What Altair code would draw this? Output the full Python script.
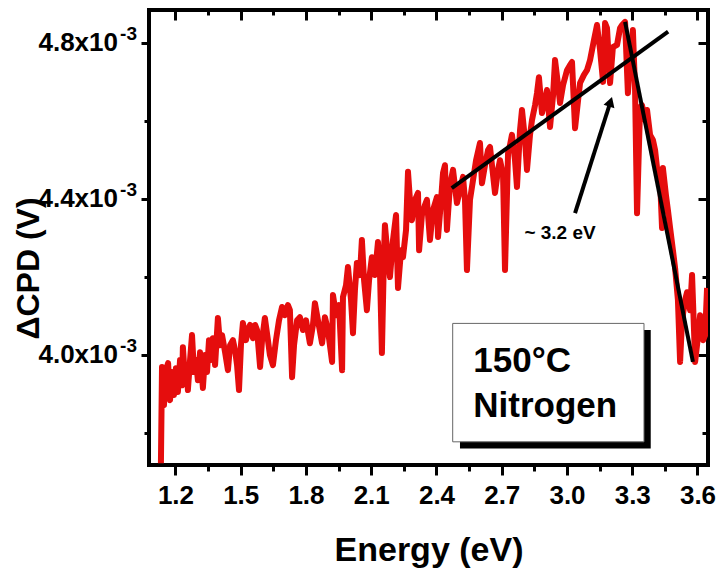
import altair as alt
import pandas as pd

FONT = "Liberation Sans"

# ---- measured spectrum (Energy in eV, dCPD in mV) ----
energy = [1.133, 1.138, 1.147, 1.156, 1.166, 1.175, 1.184, 1.193, 1.202, 1.211,
          1.221, 1.230, 1.234, 1.244, 1.253, 1.257, 1.267, 1.276, 1.285, 1.294,
          1.303, 1.313, 1.326, 1.336, 1.345, 1.354, 1.363, 1.372, 1.382, 1.395,
          1.405, 1.414, 1.428, 1.441, 1.451, 1.464, 1.474, 1.483, 1.492, 1.501,
          1.510, 1.524, 1.533, 1.543, 1.556, 1.566, 1.575, 1.589, 1.598, 1.611,
          1.625, 1.634, 1.648, 1.662, 1.676, 1.690, 1.703, 1.717, 1.726, 1.736,
          1.745, 1.759, 1.772, 1.786, 1.800, 1.818, 1.832, 1.841, 1.855, 1.874,
          1.887, 1.901, 1.920, 1.924, 1.938, 1.952, 1.966, 1.970, 1.984, 1.993,
          2.007, 2.016, 2.025, 2.034, 2.048, 2.057, 2.067, 2.080, 2.090, 2.103,
          2.117, 2.131, 2.140, 2.149, 2.159, 2.163, 2.177, 2.186, 2.200, 2.214,
          2.223, 2.237, 2.246, 2.260, 2.269, 2.278, 2.287, 2.301, 2.315, 2.320,
          2.333, 2.347, 2.356, 2.370, 2.384, 2.402, 2.407, 2.421, 2.430, 2.439,
          2.448, 2.462, 2.476, 2.494, 2.508, 2.522, 2.531, 2.540, 2.554, 2.568,
          2.582, 2.600, 2.609, 2.623, 2.637, 2.646, 2.660, 2.669, 2.683, 2.692,
          2.706, 2.715, 2.729, 2.738, 2.747, 2.761, 2.770, 2.784, 2.793, 2.807,
          2.816, 2.830, 2.839, 2.853, 2.862, 2.871, 2.885, 2.899, 2.908, 2.922,
          2.936, 2.945, 2.959, 2.968, 2.982, 3.000, 3.014, 3.023, 3.037, 3.051,
          3.060, 3.078, 3.092, 3.106, 3.124, 3.138, 3.152, 3.166, 3.175, 3.184,
          3.198, 3.211, 3.230, 3.244, 3.253, 3.267, 3.280, 3.290, 3.303, 3.313,
          3.322, 3.336, 3.345, 3.359, 3.368, 3.382, 3.395, 3.405, 3.414, 3.428,
          3.437, 3.441, 3.455, 3.464, 3.474, 3.487, 3.497, 3.510, 3.520, 3.529,
          3.543, 3.552, 3.566, 3.575, 3.584, 3.589, 3.603, 3.612, 3.626, 3.635,
          3.644]
cpd_mV = [3.722, 3.969, 3.871, 3.961, 3.979, 3.884, 3.956, 3.897, 3.966, 3.905,
          3.987, 3.922, 4.020, 3.935, 3.961, 3.910, 3.987, 4.051, 3.956, 3.987,
          3.935, 4.007, 3.915, 4.000, 3.956, 4.038, 3.987, 4.043, 3.974, 4.095,
          4.025, 4.051, 4.007, 3.961, 4.025, 4.038, 4.012, 3.974, 3.910, 4.025,
          4.082, 4.038, 4.064, 4.077, 4.043, 4.077, 4.064, 3.969, 4.038, 4.095,
          4.038, 4.000, 3.974, 4.038, 4.089, 4.123, 4.102, 4.128, 4.115, 3.943,
          4.025, 4.089, 4.097, 4.064, 4.089, 4.030, 4.077, 4.133, 4.089, 4.030,
          4.097, 4.064, 3.982, 4.154, 4.102, 4.128, 3.961, 4.149, 4.179, 4.226,
          4.141, 4.056, 4.166, 4.236, 4.205, 4.295, 4.192, 4.115, 4.192, 4.251,
          4.205, 4.290, 4.218, 4.005, 4.269, 4.333, 4.244, 4.200, 4.295, 4.359,
          4.172, 4.269, 4.251, 4.321, 4.470, 4.398, 4.346, 4.398, 4.416, 4.269,
          4.359, 4.385, 4.398, 4.295, 4.372, 4.405, 4.303, 4.398, 4.467, 4.487,
          4.321, 4.436, 4.475, 4.390, 4.423, 4.457, 4.398, 4.218, 4.398, 4.449,
          4.500, 4.544, 4.441, 4.487, 4.526, 4.534, 4.462, 4.416, 4.475, 4.500,
          4.462, 4.218, 4.518, 4.539, 4.565, 4.500, 4.431, 4.577, 4.629, 4.552,
          4.475, 4.565, 4.603, 4.641, 4.672, 4.713, 4.621, 4.654, 4.680, 4.585,
          4.667, 4.757, 4.693, 4.647, 4.693, 4.731, 4.744, 4.752, 4.582, 4.654,
          4.698, 4.719, 4.731, 4.757, 4.808, 4.847, 4.783, 4.701, 4.852, 4.839,
          4.698, 4.790, 4.796, 4.839, 4.847, 4.855, 4.672, 4.757, 4.834, 4.680,
          4.364, 4.636, 4.641, 4.603, 4.629, 4.565, 4.552, 4.526, 4.480, 4.449,
          4.326, 4.480, 4.410, 4.372, 4.326, 4.269, 4.223, 4.141, 3.982, 4.089,
          4.141, 4.161, 4.115, 4.205, 4.064, 3.982, 4.051, 4.102, 4.038, 4.051,
          4.172]

# ---- linear fits drawn on the spectrum ----
fit_id = ["rise", "rise", "fall", "fall"]
fit_energy = [2.470, 3.465, 3.267, 3.579]
fit_mV = [4.428, 4.830, 4.855, 3.982]

# ---- arrow annotation ----
arrow_energy = [3.037, 3.200]
arrow_mV = [4.364, 4.650]
arrow_label = "~ 3.2 eV"
arrow_label_energy = 2.968
arrow_label_mV = 4.313

# ---- inset label box ----
box_text = ["150°C", "Nitrogen"]
box_text_energy = [2.569, 2.569]
box_text_mV = [3.957, 3.841]
box_energy = [2.4745, 3.354]
box_mV = [4.081, 3.777]
shadow_energy = [2.508, 3.385]
shadow_mV = [4.064, 3.760]

# ---- axes ----
x_major = [1.2, 1.5, 1.8, 2.1, 2.4, 2.7, 3.0, 3.3, 3.6]
x_minor = [1.35, 1.65, 1.95, 2.25, 2.55, 2.85, 3.15, 3.45]
y_major_mV = [4.0, 4.4, 4.8]
y_minor_mV = [3.8, 4.2, 4.6]
y_tick_text = ["4.0x10", "4.4x10", "4.8x10"]
y_tick_exp = "-3"
x_domain = [1.0782, 3.6483]
y_domain_mV = [3.7175, 4.8855]

mV = 1e-3
spec = pd.DataFrame({"E": energy, "V": [v * mV for v in cpd_mV]})
fits = pd.DataFrame({"id": fit_id, "E": fit_energy, "V": [v * mV for v in fit_mV]})
arrow = pd.DataFrame({"E": arrow_energy, "V": [v * mV for v in arrow_mV]})
head = pd.DataFrame({"E": [arrow_energy[1]], "V": [arrow_mV[1] * mV]})
alabel = pd.DataFrame({"E": [arrow_label_energy], "V": [arrow_label_mV * mV], "t": [arrow_label]})
btext = pd.DataFrame({"E": box_text_energy, "V": [v * mV for v in box_text_mV], "t": box_text})
box = pd.DataFrame({"E": [box_energy[0]], "E2": [box_energy[1]],
                    "V": [box_mV[0] * mV], "V2": [box_mV[1] * mV]})
shadow = pd.DataFrame({"E": [shadow_energy[0]], "E2": [shadow_energy[1]],
                       "V": [shadow_mV[0] * mV], "V2": [shadow_mV[1] * mV]})
ylab = pd.DataFrame({"V": [v * mV for v in y_major_mV], "t": y_tick_text})

xs = alt.Scale(domain=x_domain, nice=False, zero=False)
ys = alt.Scale(domain=[v * mV for v in y_domain_mV], nice=False, zero=False)

common = dict(domain=False, grid=False, tickColor="black", tickWidth=3)

ax_bottom = alt.Axis(orient="bottom", values=x_major, tickSize=10, format=".1f",
                     labelFont=FONT, labelFontSize=26, labelFontWeight="bold",
                     labelColor="black", labelPadding=7, labelFlush=False,
                     labelOverlap=False, title="Energy (eV)", titleFont=FONT,
                     titleFontSize=34, titleFontWeight="bold", titleColor="black",
                     titleBaseline="alphabetic", titleY=95, **common)
ax_left = alt.Axis(orient="left", values=[v * mV for v in y_major_mV], tickSize=8,
                   labels=False, title="ΔCPD (V)", titleFont=FONT, titleFontSize=32,
                   titleFontWeight="bold", titleColor="black", titleAngle=270,
                   titleAlign="center", titleBaseline="middle", titleX=-121,
                   titleY=258, **common)
ax_bottom_minor = alt.Axis(orient="bottom", values=x_minor, tickSize=6,
                           labels=False, title=None, **common)
ax_left_minor = alt.Axis(orient="left", values=[v * mV for v in y_minor_mV],
                         tickSize=5, labels=False, title=None, **common)
ax_top = alt.Axis(orient="top", values=x_major, tickSize=10, offset=-10,
                  labels=False, title=None, **common)
ax_right = alt.Axis(orient="right", values=[v * mV for v in y_major_mV],
                    tickSize=10, offset=-10, labels=False, title=None, **common)
ax_top_minor = alt.Axis(orient="top", values=x_minor, tickSize=5, offset=-5,
                        labels=False, title=None, **common)
ax_right_minor = alt.Axis(orient="right", values=[v * mV for v in y_minor_mV],
                          tickSize=6, offset=-6, labels=False, title=None, **common)

line = alt.Chart(spec).mark_line(color="#e50d0d", strokeWidth=6, strokeJoin="round",
                                 clip=True).encode(
    x=alt.X("E:Q", scale=xs, axis=ax_bottom),
    y=alt.Y("V:Q", scale=ys, axis=ax_left),
)

fit = alt.Chart(fits).mark_line(color="black", strokeWidth=4).encode(
    x=alt.X("E:Q", scale=xs, axis=ax_bottom_minor),
    y=alt.Y("V:Q", scale=ys, axis=ax_left_minor),
    detail="id:N",
)

arr = alt.Chart(arrow).mark_line(color="black", strokeWidth=4).encode(
    x=alt.X("E:Q", scale=xs, axis=ax_top),
    y=alt.Y("V:Q", scale=ys, axis=ax_right),
)

arr_head = alt.Chart(head).mark_point(shape="triangle-up", filled=True, color="black",
                                      opacity=1, size=130, angle=17.7).encode(
    x=alt.X("E:Q", scale=xs, axis=None),
    y=alt.Y("V:Q", scale=ys, axis=None),
)

arr_text = alt.Chart(alabel).mark_text(font=FONT, fontSize=19, fontWeight="bold",
                                       color="black", align="center",
                                       baseline="middle").encode(
    x=alt.X("E:Q", scale=xs, axis=None),
    y=alt.Y("V:Q", scale=ys, axis=None),
    text="t:N",
)

shadow_rect = alt.Chart(shadow).mark_rect(color="black").encode(
    x=alt.X("E:Q", scale=xs, axis=ax_top_minor),
    x2="E2:Q",
    y=alt.Y("V:Q", scale=ys, axis=ax_right_minor),
    y2="V2:Q",
)

box_rect = alt.Chart(box).mark_rect(fill="white", stroke="#666666",
                                    strokeWidth=1).encode(
    x=alt.X("E:Q", scale=xs, axis=None),
    x2="E2:Q",
    y=alt.Y("V:Q", scale=ys, axis=None),
    y2="V2:Q",
)

box_label = alt.Chart(btext).mark_text(font=FONT, fontSize=35, fontWeight="bold",
                                       color="black", align="left",
                                       baseline="alphabetic").encode(
    x=alt.X("E:Q", scale=xs, axis=None),
    y=alt.Y("V:Q", scale=ys, axis=None),
    text="t:N",
)

ytick_main = alt.Chart(ylab).mark_text(font=FONT, fontSize=26, fontWeight="bold",
                                       color="black", align="right",
                                       baseline="middle").encode(
    x=alt.value(-31),
    y=alt.Y("V:Q", scale=ys, axis=None),
    text="t:N",
)
ytick_exp = alt.Chart(ylab).mark_text(font=FONT, fontSize=19, fontWeight="bold",
                                      color="black", align="right",
                                      baseline="middle", dy=-9,
                                      text=y_tick_exp).encode(
    x=alt.value(-12),
    y=alt.Y("V:Q", scale=ys, axis=None),
)

chart = alt.layer(
    line, fit, arr, arr_head, arr_text, shadow_rect, box_rect, box_label,
    ytick_main, ytick_exp,
).resolve_axis(x="independent", y="independent").properties(
    width=559, height=455,
    autosize=alt.AutoSizeParams(type="none"),
    padding={"left": 149, "top": 10, "right": 14, "bottom": 107},
    background="white",
).configure_view(stroke="black", strokeWidth=4)

chart.save("out.html", embed_options={"renderer": "svg", "actions": False})
